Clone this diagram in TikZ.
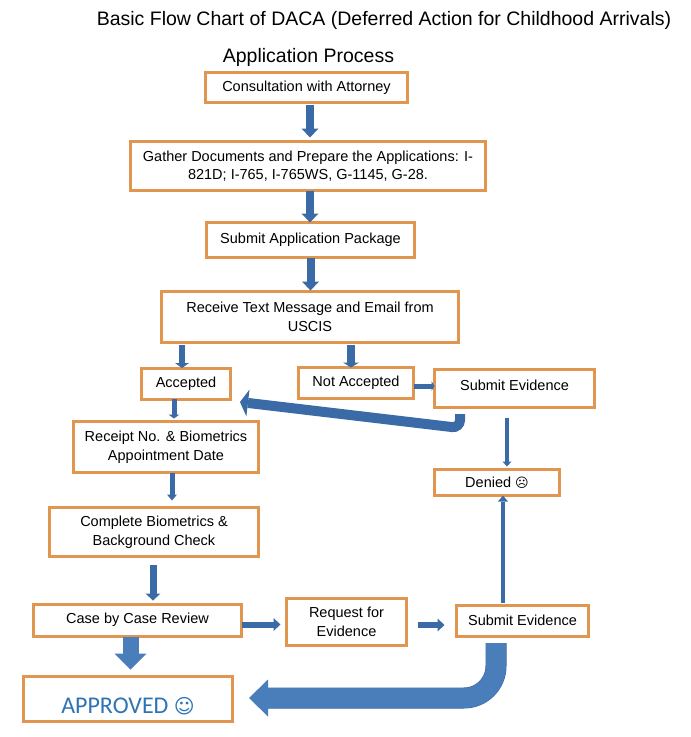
\documentclass[tikz,border=0pt]{standalone}
\usepackage{fontspec}
\setmainfont{Liberation Sans}
\newfontfamily\symfont{DejaVu Sans}
\newfontfamily\calfont{Carlito}
\usetikzlibrary{arrows.meta,calc}
\definecolor{boxorange}{HTML}{E0964E}
\definecolor{arrowblue}{HTML}{3A6BA6}
\definecolor{bigblue}{HTML}{4A7EBB}
\definecolor{arrowedge}{HTML}{35659C}
\definecolor{apprblue}{HTML}{2E74B5}
\tikzset{
  box/.style={draw=boxorange,line width=3pt,fill=white,align=center,inner sep=0pt,outer sep=0pt,font=\fontsize{14.5}{19}\selectfont},
  titletext/.style={font=\fontsize{19.5}{22}\selectfont,inner sep=0pt},
  blk/.style n args={3}{draw=arrowblue,line width=#1,-{Triangle[length=#2,width=#3,line width=0pt,fill=arrowblue]}},
  bigblk/.style n args={3}{draw=bigblue,line width=#1,-{Triangle[length=#2,width=#3,line width=0pt,fill=bigblue]}},
}
\begin{document}
\begin{tikzpicture}[x=1pt,y=-1pt]
\useasboundingbox[fill=white] (0,0) rectangle (691,737);
\node[titletext] (title) at (384,20) {Basic Flow Chart of DACA (Deferred Action for Childhood Arrivals)};
\node[titletext] (sub) at (308.5,57) {Application Process};
\node[box,minimum width=202pt,minimum height=30pt] (cons) at (306.5,87.5) {Consultation with Attorney};
\node[box,minimum width=355pt,minimum height=49pt] (gather) at (308,166) {\raisebox{-1pt}{Gather Documents and Prepare the Applications: I-}\\821D; I-765, I-765WS, G-1145, G-28.};
\node[box,minimum width=208pt,minimum height=35pt] (pack) at (310.5,240) {Submit Application Package};
\node[box,minimum width=297pt,minimum height=51pt] (recv) at (310,317) {Receive Text Message and Email from\\USCIS};
\node[box,minimum width=89pt,minimum height=31pt] (acc) at (186,383.5) {Accepted};
\node[box,minimum width=115pt,minimum height=31pt] (nacc) at (356,383) {\raisebox{3pt}{Not Accepted}};
\node[box,minimum width=160pt,minimum height=38pt] (se1) at (514.5,388.5) {\raisebox{7pt}{Submit Evidence}};
\node[box,minimum width=185pt,minimum height=51pt] (rcpt) at (166,447) {Receipt No. \& Biometrics\\Appointment Date};
\node[box,minimum width=125pt,minimum height=26pt] (den) at (497,482.5) {Denied {\symfont\fontsize{13}{19}\selectfont\char"2639}};
\node[box,minimum width=209pt,minimum height=49pt] (bio) at (154,532) {Complete Biometrics \&\\Background Check};
\node[box,minimum width=208pt,minimum height=32pt] (case) at (137.5,620.5) {\raisebox{4pt}{Case by Case Review}};
\node[box,minimum width=120pt,minimum height=47pt] (rfe) at (346.5,622) {Request for\\Evidence};
\node[box,minimum width=132pt,minimum height=31pt] (se2) at (522.5,621) {\raisebox{1pt}{Submit Evidence}};
\node[box,minimum width=209pt,minimum height=45pt,font=\calfont\fontsize{24}{26}\selectfont,text=apprblue] (appr) at (128,699) {\raisebox{-14pt}[0pt][0pt]{APPROVED {\symfont\fontsize{20}{26}\selectfont\char"263A}}};
\coordinate (bigstart) at (496,643);
\coordinate (bigturn) at (496,698);
\coordinate (bigend) at (249,698);
\coordinate (backstart) at (460,414);
\coordinate (backturn) at (460,428);
\coordinate (backend) at (240,402);
\draw[blk={8pt}{9pt}{17pt},shorten <=2pt,shorten >=4pt] ([xshift=3.5pt]cons.south) -- ([xshift=3.5pt]cons.south |- gather.north);
\draw[blk={8pt}{9pt}{17pt}] ([xshift=2pt]gather.south) -- ([xshift=2pt]gather.south |- pack.north);
\draw[blk={8pt}{9pt}{17pt},shorten >=1pt] (pack.south) -- (pack.south |- recv.north);
\draw[blk={6pt}{5pt}{14pt},shorten <=2pt] ([xshift=-4pt]acc.north |- recv.south) -- ([xshift=-4pt]acc.north);
\draw[blk={8pt}{5pt}{16pt},shorten <=2pt] ([xshift=-5pt]nacc.north |- recv.south) -- ([xshift=-5pt]nacc.north);
\draw[blk={5pt}{3pt}{10pt}] ([yshift=-3pt]nacc.east) -- ([yshift=-3pt]nacc.east -| se1.west);
\draw[blk={5pt}{4pt}{11pt}] ([xshift=-12pt]acc.south) -- ([xshift=-12pt,yshift=3pt]acc.south |- rcpt.north);
\draw[blk={5pt}{6pt}{10pt},shorten >=7pt] ([xshift=6pt]rcpt.south) -- ([xshift=6pt]rcpt.south |- bio.north);
\draw[blk={7pt}{7pt}{15pt},shorten <=8pt,shorten >=4pt] ([xshift=-1pt]bio.south) -- ([xshift=-1pt]bio.south |- case.north);
\draw[blk={4pt}{5pt}{9pt},shorten <=10pt,shorten >=3pt] ([xshift=-7.5pt]se1.south) -- ([xshift=-7.5pt]se1.south |- den.north);
\draw[blk={4pt}{6pt}{10pt},shorten <=3pt] ([xshift=-19.5pt]se2.north) -- ([xshift=-19.5pt]se2.north |- den.south);
\draw[bigblk={16pt}{16pt}{32pt},shorten >=7pt] ([xshift=-7pt]case.south) -- ([xshift=-7pt]case.south |- appr.north);
\draw[blk={6pt}{7pt}{13pt}] ([yshift=-4pt]case.east) -- ([yshift=-4pt,xshift=-6pt]case.east -| rfe.west);
\draw[blk={6pt}{7pt}{13pt},shorten <=11pt,shorten >=12pt] ([yshift=-3pt]rfe.east) -- ([yshift=-3pt]rfe.east -| se2.west);
\draw[bigblk={20pt}{19pt}{37pt},rounded corners=32pt,preaction={draw=arrowedge,line width=21pt,-,shorten >=18pt}] (bigstart) -- (bigturn) -- (bigend);
\draw[blk={10pt}{8pt}{27pt},rounded corners=8pt] (backstart) -- (backturn) -- (backend);
\end{tikzpicture}
\end{document}
